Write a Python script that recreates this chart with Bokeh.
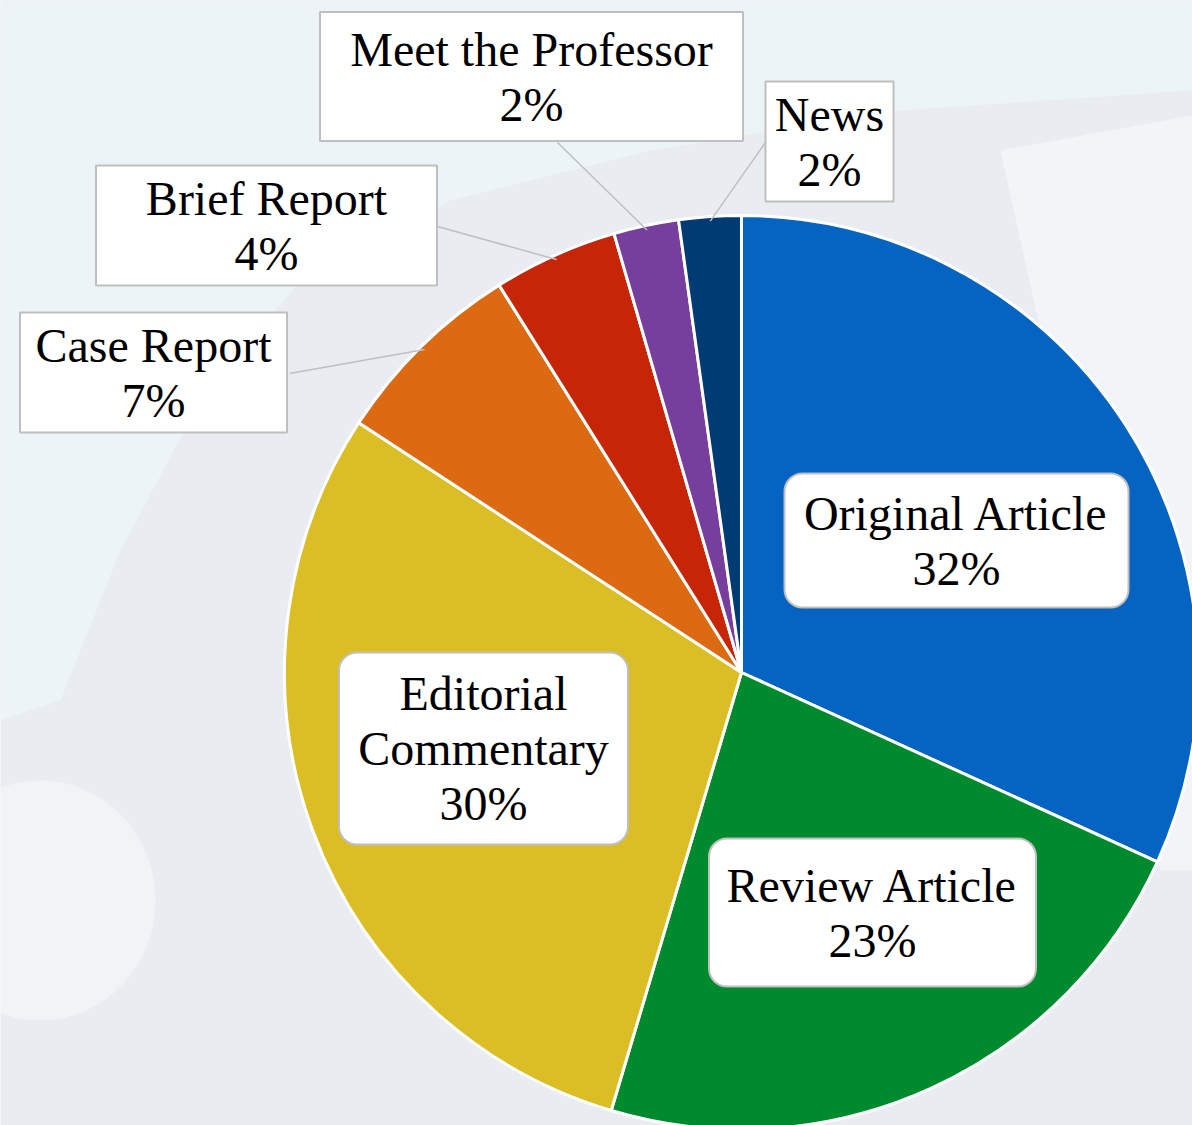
import math
from bokeh.plotting import figure
from bokeh.models import Range1d
from bokeh.embed import file_html
from bokeh.resources import INLINE
from bokeh.core.properties import value

# ---------------- data ----------------
categories = ["Original Article", "Review Article", "Editorial Commentary",
              "Case Report", "Brief Report", "Meet the Professor", "News"]
shares = [31.8, 22.8, 29.6, 6.9, 4.4, 2.3, 2.2]
colors = ["#0563C1", "#008A2E", "#DBBE26", "#DC6A12", "#C62508", "#763F9D", "#003B73"]
label_lines = [["Original Article"], ["Review Article"], ["Editorial", "Commentary"],
               ["Case Report"], ["Brief Report"], ["Meet the Professor"], ["News"]]

# ---------------- layout (pixels from top-left) ----------------
W, H = 1192, 1125
CX, CY_TOP, R = 741, 672, 457
# label box: centre x, centre y (from top), width, height, rounded
box_layout = [
    (956, 540, 344, 134, True),
    (872, 912, 327, 148, True),
    (483, 748, 289, 192, True),
    (153, 372, 267, 120, False),
    (266, 225, 341, 120, False),
    (531, 76, 423, 129, False),
    (829, 141, 128, 120, False),
]
# leader-line start on the box (None = inside label)
leader_start = [None, None, None, (289, 373), (437, 226), (557, 142), (767, 139)]
LINE_H = 55
BASE_OFFSET = 0
FONT = "Liberation Serif"


def fy(y_top):
    return H - y_top


p = figure(width=W, height=H, x_range=Range1d(0, W), y_range=Range1d(0, H),
           x_axis_type=None, y_axis_type=None, toolbar_location=None,
           output_backend="svg", min_border=0, outline_line_color=None)
p.grid.visible = False
p.background_fill_color = "#e9ecf1"
p.border_fill_color = "#e9ecf1"

# faint background watermark shapes
bg_x = [0, W, W, 900, 650, 450, 300, 200, 120, 60, 0]
bg_y = [0, 0, 90, 110, 150, 200, 280, 400, 550, 700, 720]
p.patch(bg_x, [fy(v) for v in bg_y], fill_color="#edf4f7", line_color=None)
wx = [1000, W, W, 1160]
wy = [150, 115, 870, 870]
p.patch(wx, [fy(v) for v in wy], fill_color="white", fill_alpha=0.45, line_color=None)
p.ellipse(x=40, y=fy(900), width=230, height=240, fill_color="white", fill_alpha=0.4,
          line_color=None)

# ---------------- pie ----------------
total = sum(shares)
cy = fy(CY_TOP)
starts, ends, mids = [], [], []
cum = 0.0
for s in shares:
    a0 = math.pi / 2 - 2 * math.pi * cum / total
    cum += s
    a1 = math.pi / 2 - 2 * math.pi * cum / total
    starts.append(a0)
    ends.append(a1)
    mids.append((a0 + a1) / 2)

p.wedge(x=[CX] * len(shares), y=[cy] * len(shares), radius=R,
        start_angle=starts, end_angle=ends, direction="clock",
        fill_color=colors, line_color="white", line_width=3)

# ---------------- leader lines ----------------
for i, st in enumerate(leader_start):
    if st is None:
        continue
    ex = CX + R * 0.99 * math.cos(mids[i])
    ey = cy + R * 0.99 * math.sin(mids[i])
    p.line([st[0], ex], [fy(st[1]), ey], line_color="#bfbfbf", line_width=1.5)

# ---------------- label boxes ----------------
for i, (bx, by, bw, bh, rounded) in enumerate(box_layout):
    p.quad(left=bx - bw / 2, right=bx + bw / 2, top=fy(by - bh / 2), bottom=fy(by + bh / 2),
           fill_color="white", line_color="#bfbfbf", line_width=2,
           border_radius=18 if rounded else 0)

# ---------------- label texts ----------------
tx, ty, tt = [], [], []
for i, (bx, by, bw, bh, rounded) in enumerate(box_layout):
    lines = label_lines[i] + [f"{round(shares[i] / total * 100)}%"]
    n = len(lines)
    for k, ln in enumerate(lines):
        base = by + (k - (n - 1) / 2) * LINE_H + BASE_OFFSET
        tx.append(bx)
        ty.append(fy(base))
        tt.append(ln)

p.text(x=tx, y=ty, text=tt, text_font=value(FONT), text_font_size="48px",
       text_align="center", text_baseline="alphabetic", text_color="black")

open("out.html", "w").write(file_html(p, INLINE))
